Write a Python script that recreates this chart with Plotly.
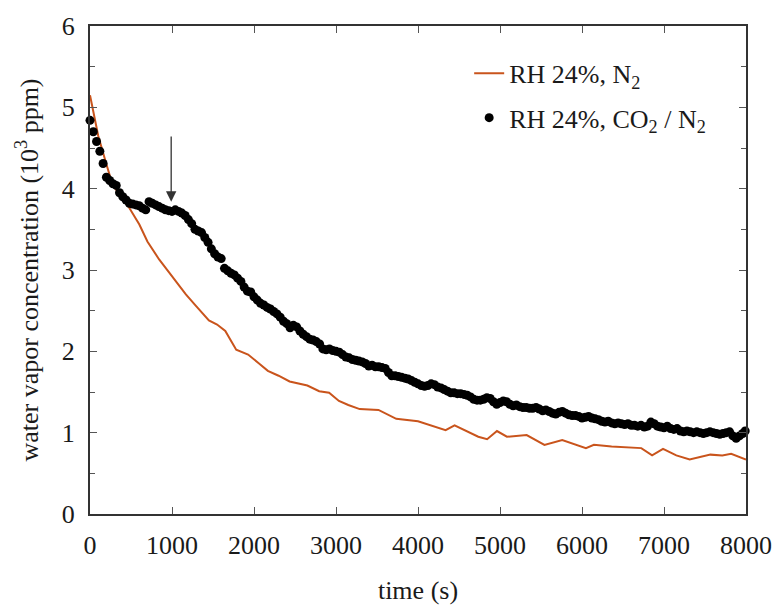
import plotly.graph_objects as go

# ---- data ----
t_n2 = [0, 100, 200, 277, 400, 482, 602, 700, 843, 1000, 1169, 1300, 1450, 1550, 1650,
        1783, 1900, 1928, 2050, 2169, 2300, 2434, 2651, 2795, 2916, 3036, 3150, 3289,
        3518, 3735, 4000, 4200, 4337, 4446, 4600, 4735, 4843, 4963, 5084, 5325, 5542,
        5759, 6048, 6145, 6361, 6500, 6723, 6855, 6988, 7150, 7313, 7566, 7711, 7819, 8000]
y_n2 = [5.15, 4.65, 4.30, 4.04, 3.88, 3.76, 3.56, 3.35, 3.13, 2.92, 2.70, 2.55, 2.38, 2.33,
        2.25, 2.02, 1.97, 1.96, 1.86, 1.76, 1.70, 1.63, 1.58, 1.51, 1.49, 1.39, 1.34, 1.29,
        1.28, 1.17, 1.14, 1.08, 1.03, 1.09, 1.01, 0.95, 0.92, 1.02, 0.95, 0.97, 0.85,
        0.91, 0.81, 0.85, 0.83, 0.82, 0.81, 0.72, 0.80, 0.72, 0.67, 0.73, 0.72, 0.74, 0.67]

t_co2 = [0, 40, 80, 120, 160, 200, 240, 280, 320, 360, 400, 440, 480, 520, 560, 600, 640,
         680, 720, 760, 800, 840, 880, 920, 960, 1000, 1040, 1080, 1120, 1160, 1200, 1240,
         1280, 1320, 1360, 1400, 1440, 1480, 1520, 1560, 1600, 1640, 1680, 1720, 1760,
         1800, 1840, 1880, 1920, 1960, 2000, 2040, 2080, 2120, 2160, 2200, 2240, 2280,
         2320, 2360, 2400, 2440, 2480, 2520, 2560, 2600, 2640, 2680, 2720, 2760, 2800,
         2840, 2880, 2920, 2960, 3000, 3040, 3080, 3120, 3160, 3200, 3240, 3280, 3320,
         3360, 3400, 3440, 3480, 3520, 3560, 3600, 3640, 3680, 3720, 3760, 3800, 3840,
         3880, 3920, 3960, 4000, 4040, 4080, 4120, 4160, 4200, 4240, 4280, 4320, 4360,
         4400, 4440, 4480, 4520, 4560, 4600, 4640, 4680, 4720, 4760, 4800, 4840, 4880,
         4920, 4960, 5000, 5040, 5080, 5120, 5160, 5200, 5240, 5280, 5320, 5360, 5400,
         5440, 5480, 5520, 5560, 5600, 5640, 5680, 5720, 5760, 5800, 5840, 5880, 5920,
         5960, 6000, 6040, 6080, 6120, 6160, 6200, 6240, 6280, 6320, 6360, 6400, 6440,
         6480, 6520, 6560, 6600, 6640, 6680, 6720, 6760, 6800, 6840, 6880, 6920, 6960,
         7000, 7040, 7080, 7120, 7160, 7200, 7240, 7280, 7320, 7360, 7400, 7440, 7480,
         7520, 7560, 7600, 7640, 7680, 7720, 7760, 7800, 7840, 7880, 7920, 7960, 7990]
y_co2 = [4.84, 4.70, 4.58, 4.46, 4.31, 4.14, 4.10, 4.06, 4.04, 3.95, 3.90, 3.86, 3.82,
         3.81, 3.80, 3.79, 3.76, 3.74, 3.84, 3.82, 3.80, 3.78, 3.76, 3.74, 3.73, 3.72,
         3.74, 3.72, 3.70, 3.67, 3.62, 3.57, 3.50, 3.48, 3.46, 3.40, 3.34, 3.26, 3.20,
         3.16, 3.14, 3.02, 2.99, 2.96, 2.94, 2.90, 2.86, 2.79, 2.74, 2.73, 2.67, 2.63,
         2.59, 2.57, 2.54, 2.52, 2.49, 2.46, 2.42, 2.37, 2.34, 2.29, 2.32, 2.30, 2.25,
         2.21, 2.18, 2.15, 2.14, 2.12, 2.09, 2.03, 2.02, 2.03, 2.01, 2.00, 1.99, 1.96,
         1.93, 1.92, 1.90, 1.89, 1.88, 1.87, 1.85, 1.82, 1.83, 1.81, 1.81, 1.80, 1.79,
         1.74, 1.70, 1.70, 1.69, 1.68, 1.67, 1.66, 1.64, 1.62, 1.60, 1.58, 1.57, 1.58,
         1.60, 1.59, 1.56, 1.55, 1.53, 1.51, 1.49, 1.49, 1.48, 1.48, 1.47, 1.46, 1.44,
         1.41, 1.40, 1.40, 1.41, 1.43, 1.42, 1.38, 1.35, 1.37, 1.39, 1.38, 1.35, 1.33,
         1.34, 1.32, 1.31, 1.31, 1.30, 1.30, 1.31, 1.29, 1.27, 1.28, 1.26, 1.24, 1.23,
         1.25, 1.26, 1.24, 1.22, 1.21, 1.21, 1.20, 1.18, 1.19, 1.20, 1.18, 1.17, 1.16,
         1.14, 1.13, 1.14, 1.12, 1.11, 1.12, 1.11, 1.10, 1.11, 1.09, 1.09, 1.08, 1.09,
         1.07, 1.08, 1.13, 1.11, 1.08, 1.07, 1.06, 1.08, 1.05, 1.04, 1.05, 1.02, 1.01,
         1.02, 1.01, 1.00, 1.01, 1.00, 0.99, 1.00, 1.01, 1.00, 0.99, 0.98, 0.99, 1.00,
         1.01, 0.96, 0.93, 0.96, 0.99, 1.02]

x_ticks = [0, 1000, 2000, 3000, 4000, 5000, 6000, 7000, 8000]
y_ticks = [0, 1, 2, 3, 4, 5, 6]

arrow_t = 990
arrow_tip = 3.84
arrow_tail = 4.66

FONT = "Liberation Serif"
TXT = "#1a1a1a"
ORANGE = "#c9541c"

fig = go.Figure()
fig.add_trace(go.Scatter(
    x=t_n2, y=y_n2, mode="lines", name="RH 24%, N<sub>2</sub>",
    line=dict(color=ORANGE, width=2), legend="legend"))
fig.add_trace(go.Scatter(
    x=t_co2, y=y_co2, mode="markers", name="RH 24%, CO<sub>2</sub> / N<sub>2</sub>",
    marker=dict(color="black", size=9), legend="legend2", cliponaxis=False))

fig.add_annotation(x=arrow_t, y=arrow_tip, ax=arrow_t, ay=arrow_tail,
                   xref="x", yref="y", axref="x", ayref="y", text="",
                   showarrow=True, arrowhead=2, arrowsize=1.6, arrowwidth=1.3,
                   arrowcolor="#333333", standoff=0)

axis_common = dict(
    showline=True, linecolor="#333333", linewidth=2, mirror="ticks",
    ticks="inside", ticklen=7, tickwidth=1, tickcolor="#555555",
    showgrid=False, zeroline=False,
    tickfont=dict(family=FONT, size=26, color=TXT),
)

fig.update_xaxes(range=[0, 8000], tickvals=x_ticks, ticklabelstandoff=7,
                 title=dict(text="time (s)", font=dict(family=FONT, size=26, color=TXT),
                            standoff=22),
                 **axis_common)
fig.update_yaxes(range=[0, 6], tickvals=y_ticks, ticklabelstandoff=8,
                 minor=dict(ticks="inside", ticklen=5, tickcolor="#555555", dtick=0.5,
                            showgrid=False),
                 title=dict(text="water vapor concentration (10<sup>3</sup> ppm)",
                            font=dict(family=FONT, size=26, color=TXT), standoff=16),
                 **axis_common)

legend_font = dict(family=FONT, size=26, color=TXT)
fig.update_layout(
    width=784, height=612,
    margin=dict(l=90, r=30, t=23, b=88),
    plot_bgcolor="white", paper_bgcolor="white",
    font=dict(family=FONT, color=TXT),
    showlegend=True,
    legend=dict(x=0.578, y=0.903, xanchor="left", yanchor="middle",
                font=legend_font, bgcolor="rgba(0,0,0,0)", itemwidth=30),
    legend2=dict(x=0.578, y=0.812, xanchor="left", yanchor="middle",
                 font=legend_font, bgcolor="rgba(0,0,0,0)", itemwidth=30),
)

fig.write_html("out.html")
